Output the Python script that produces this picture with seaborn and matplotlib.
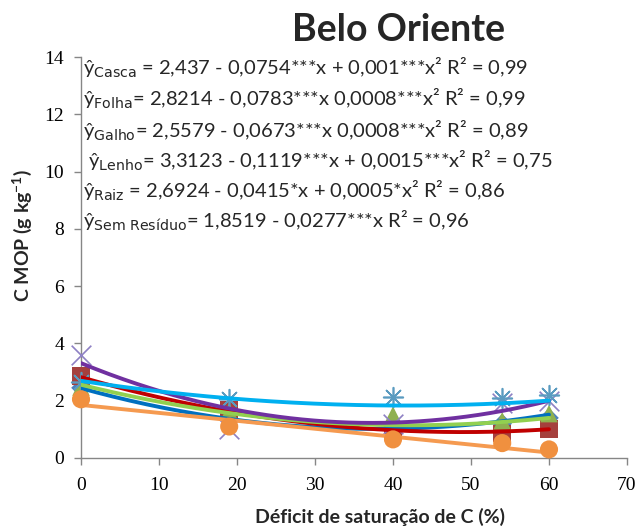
import numpy as np
import pandas as pd
import matplotlib
matplotlib.use("Agg")
import matplotlib.pyplot as plt
import seaborn as sns

# ---- data ----
x_deficit = [0, 19, 40, 54, 60]
casca = [2.45, 1.35, 1.00, 1.20, 1.40]
folha = [2.87, 1.68, 0.98, 0.86, 1.02]
galho = [2.48, 1.62, 1.50, 1.30, 1.55]
lenho = [3.60, 1.00, 1.20, 1.92, 2.00]
raiz = [2.65, 2.05, 2.12, 2.10, 2.20]
sem_residuo = [2.05, 1.10, 0.65, 0.52, 0.30]

series_names = ["Casca", "Folha", "Galho", "Lenho", "Raiz", "Sem Resíduo"]

# trend-line coefficients as printed on the chart (c0, c1, c2)
coef_casca = [2.437, -0.0754, 0.001]
coef_folha = [2.8214, -0.0783, 0.0008]
coef_galho = [2.5579, -0.0673, 0.0008]
coef_lenho = [3.3123, -0.1119, 0.0015]
coef_raiz = [2.6924, -0.0415, 0.0005]
coef_sem = [1.8519, -0.0277, 0.0]

eq_texts = [
    "ŷ$_{\\mathrm{Casca}}$ = 2,437 - 0,0754***x + 0,001***x² R² = 0,99",
    "ŷ$_{\\mathrm{Folha}}$= 2,8214 - 0,0783***x 0,0008***x² R² = 0,99",
    "ŷ$_{\\mathrm{Galho}}$= 2,5579 - 0,0673***x 0,0008***x² R² = 0,89",
    " ŷ$_{\\mathrm{Lenho}}$= 3,3123 - 0,1119***x + 0,0015***x² R² = 0,75",
    "ŷ$_{\\mathrm{Raiz}}$ = 2,6924 - 0,0415*x + 0,0005*x² R² = 0,86",
    "ŷ$_{\\mathrm{Sem\\ Resíduo}}$= 1,8519 - 0,0277***x R² = 0,96",
]

title = "Belo Oriente"
xlabel = "Déficit de saturação de C (%)"
ylabel = "C MOP (g kg$^{-1}$)"
xticks = [0, 10, 20, 30, 40, 50, 60, 70]
yticks = [0, 2, 4, 6, 8, 10, 12, 14]

# ---- style ----
sns.set_style("white")
plt.rcParams["font.family"] = ["Lato", "DejaVu Sans"]
plt.rcParams["mathtext.default"] = "regular"

marker_colors = ["#4F81BD", "#A5403D", "#8FB050", "#8E80C4", "#5A9BC0", "#F0903F"]
line_colors = ["#0070C0", "#C00000", "#92D050", "#7030A0", "#00B0F0", "#F59A50"]
markers = ["D", "s", "^", "x", (8, 2, 0), "o"]
msizes = [100, 160, 160, 200, 200, 170]

fig = plt.figure(figsize=(6.38, 5.30), dpi=100)
ax = fig.add_axes([81 / 638, 1 - 458 / 530, 546 / 638, 401 / 530])

ys = [casca, folha, galho, lenho, raiz, sem_residuo]
coefs = [coef_casca, coef_folha, coef_galho, coef_lenho, coef_raiz, coef_sem]

df = pd.DataFrame({"x": x_deficit * 6,
                   "y": sum(ys, []),
                   "serie": sum([[n] * len(x_deficit) for n in series_names], [])})

for i, name in enumerate(series_names):
    sub = df[df["serie"] == name]
    filled = markers[i] not in ("x", (8, 2, 0))
    kw = dict(edgecolor="none") if filled else dict(linewidth=1.2)
    sns.scatterplot(data=sub, x="x", y="y", marker=markers[i], s=msizes[i],
                    color=marker_colors[i], ax=ax, zorder=3 if i < 5 else 5,
                    legend=False, clip_on=False, **kw)

xx = np.linspace(min(x_deficit), max(x_deficit), 200)
for i, name in enumerate(series_names):
    c = coefs[i]
    yy = c[0] + c[1] * xx + c[2] * xx ** 2
    sns.lineplot(x=xx, y=yy, color=line_colors[i], linewidth=2.8, ax=ax,
                 zorder=4, legend=False)

ax.set_xlim(0, 70)
ax.set_ylim(0, 14)
ax.set_xticks(xticks)
ax.set_yticks(yticks)
ax.set_xticklabels([str(t) for t in xticks], family="Liberation Serif", fontsize=14)
ax.set_yticklabels([str(t) for t in yticks], family="Liberation Serif", fontsize=14)
for s in ["top", "right"]:
    ax.spines[s].set_visible(False)
for s in ["left", "bottom"]:
    ax.spines[s].set_color("#868686")
    ax.spines[s].set_linewidth(1.0)
ax.tick_params(axis="both", direction="out", length=5, width=1.0, color="#868686",
               colors="black", bottom=True, left=True)
ax.tick_params(axis="x", pad=9)
ax.tick_params(axis="y", pad=7)

ax.set_xlabel("")
ax.set_ylabel("")
fig.text(380 / 638, 1 - 517 / 530, xlabel, ha="center", va="center",
         fontsize=14, fontweight="bold")
fig.text(22 / 638, 1 - 236 / 530, ylabel, ha="center", va="center",
         rotation=90, fontsize=14, fontweight="bold")
fig.text(398 / 638, 1 - 30 / 530, title, ha="center", va="center",
         fontsize=27, fontweight="bold")

eq_y = [67, 98, 130, 160, 190, 220]
for t, yv in zip(eq_texts, eq_y):
    fig.text(83 / 638, 1 - yv / 530, t, ha="left", va="center", fontsize=14.5)

fig.savefig("out.png", dpi=100, facecolor="white")
